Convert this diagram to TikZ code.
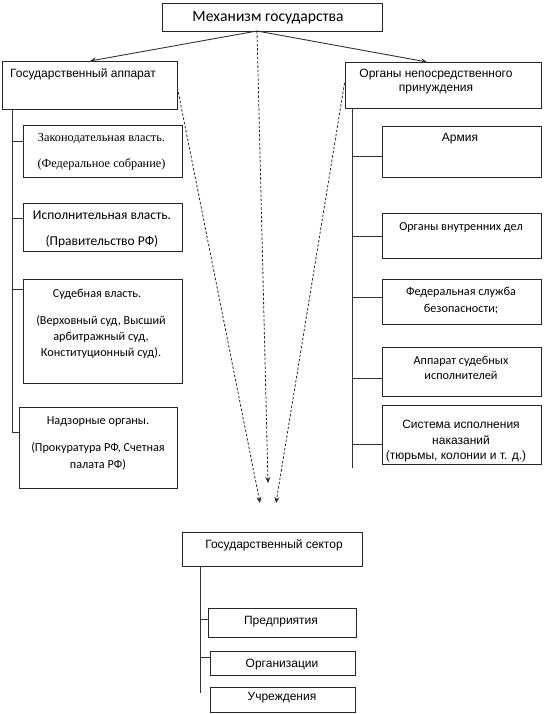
\documentclass[tikz,border=0pt]{standalone}
\usepackage{fontspec}
\setmainfont{Liberation Sans}
\newfontfamily\calfont{Carlito}
\newfontfamily\arfont{Liberation Sans}
\newfontfamily\tmfont{Liberation Serif}
\usetikzlibrary{arrows.meta}
\begin{document}
\begin{tikzpicture}[x=1pt,y=-1pt,
  box/.style={draw=black!85,line width=0.9pt,rectangle,inner sep=0pt},
  ln/.style={draw=black!80,line width=0.9pt},
  arr/.style={ln,-{Stealth[length=6pt,width=5pt]}},
  darr/.style={draw=black!85,line width=0.8pt,dash pattern=on 2.5pt off 1.8pt,-{Stealth[length=6pt,width=5pt]}},
  cal/.style={font=\calfont\fontsize{13.5}{15}\selectfont,inner sep=0pt,yshift=-1.5pt},
  cals/.style={font=\calfont\fontsize{12.2}{14}\selectfont,inner sep=0pt,yshift=-1.5pt},
  ari/.style={font=\arfont\fontsize{12}{14}\selectfont,inner sep=0pt,yshift=-1.5pt},
  tms/.style={font=\tmfont\fontsize{12.3}{14}\selectfont,inner sep=0pt,yshift=-1.5pt}]
\useasboundingbox (0,0) rectangle (543,714);
\fill[white] (0,0) rectangle (543,714);
% boxes
\node[box,minimum width=220pt,minimum height=28pt] (top) at (272,17) {};
\node[box,minimum width=175pt,minimum height=48pt] (ga) at (89.5,85) {};
\node[box,minimum width=196pt,minimum height=46pt] (onp) at (443,85) {};
\node[box,minimum width=159pt,minimum height=52pt] (zak) at (102.5,151) {};
\node[box,minimum width=159pt,minimum height=48pt] (isp) at (102.5,227) {};
\node[box,minimum width=159pt,minimum height=104pt] (sud) at (102.5,331) {};
\node[box,minimum width=158pt,minimum height=81pt] (nad) at (98,447.5) {};
\node[box,minimum width=159pt,minimum height=51pt] (arm) at (461.5,151.5) {};
\node[box,minimum width=159pt,minimum height=45pt] (ovd) at (461.5,235.5) {};
\node[box,minimum width=159pt,minimum height=45pt] (fsb) at (461.5,301.5) {};
\node[box,minimum width=159pt,minimum height=49pt] (asi) at (461.5,371.5) {};
\node[box,minimum width=159pt,minimum height=59pt] (sis) at (461.5,434.5) {};
\node[box,minimum width=180pt,minimum height=34pt] (gs) at (272,549) {};
\node[box,minimum width=148pt,minimum height=29pt] (pr) at (282,622.5) {};
\node[box,minimum width=145pt,minimum height=24pt] (org) at (282.5,663) {};
\node[box,minimum width=145pt,minimum height=25pt] (uch) at (282.5,699.5) {};
% texts
\node[cal,font=\calfont\fontsize{15.6}{17}\selectfont] (ttop) at (268,16) {Механизм государства};
\node[ari,anchor=west] (tga) at (10,73) {Государственный аппарат};
\node[ari] (tonp1) at (436,73) {Органы непосредственного};
\node[ari] (tonp2) at (436,88) {принуждения};
\node[tms] (tzak1) at (101.5,137) {Законодательная власть.};
\node[tms] (tzak2) at (101.5,163) {(Федеральное собрание)};
\node[cal] (tisp1) at (102,214) {Исполнительная власть.};
\node[cal] (tisp2) at (102,240) {(Правительство РФ)};
\node[cals] (tsud1) at (97,293) {Судебная власть.};
\node[cals] (tsud2) at (101,320) {(Верховный суд, Высший};
\node[cals] (tsud3) at (101,336) {арбитражный суд,};
\node[cals] (tsud4) at (101,352) {Конституционный суд).};
\node[cals] (tnad1) at (98,420) {Надзорные органы.};
\node[cals] (tnad2) at (98,447) {(Прокуратура РФ, Счетная};
\node[cals] (tnad3) at (98,463) {палата РФ)};
\node[ari] (tarm) at (460,137) {Армия};
\node[cals] (tovd) at (461,226) {Органы внутренних дел};
\node[cals] (tfsb1) at (461,291) {Федеральная служба};
\node[cals] (tfsb2) at (461,308) {безопасности;};
\node[cals] (tasi1) at (461,360) {Аппарат судебных};
\node[cals] (tasi2) at (461,374) {исполнителей};
\node[ari] (tsis1) at (461,423) {Система исполнения};
\node[ari] (tsis2) at (461,439) {наказаний};
\node[ari] (tsis3) at (456,455) {(тюрьмы, колонии и т. д.)};
\node[ari] (tgs) at (274,544) {Государственный сектор};
\node[ari] (tpr) at (281,620) {Предприятия};
\node[ari] (torg) at (282,663) {Организации};
\node[ari] (tuch) at (282,696) {Учреждения};
% tree connectors
\coordinate (gr) at (257,31);
\draw[arr] (gr) -- (90,61);
\draw[arr] (gr) -- (427,62);
\draw[ln] (ga.south -| 12,0) -- (12,432) -- (nad.west |- 0,432);
\draw[ln] (12,141) -- (zak.west |- 0,141);
\draw[ln] (12,218) -- (isp.west |- 0,218);
\draw[ln] (12,289) -- (sud.west |- 0,289);
\draw[ln] (onp.south -| 352,0) -- (352,468);
\draw[ln] (352,156) -- (arm.west |- 0,156);
\draw[ln] (352,236) -- (ovd.west |- 0,236);
\draw[ln] (352,297) -- (fsb.west |- 0,297);
\draw[ln] (352,378) -- (asi.west |- 0,378);
\draw[ln] (352,444) -- (sis.west |- 0,444);
\draw[ln] (gs.south -| 200,0) -- (200,693);
\draw[ln] (200,619) -- (pr.west |- 0,619);
\draw[ln] (200,657) -- (org.west |- 0,657);
% dashed arrows
\coordinate (m1) at (268,483);
\coordinate (m2) at (260,503);
\coordinate (m3) at (276,503);
\draw[darr] (gr) -- (m1);
\draw[darr] (ga.east |- 0,88) -- (m2);
\draw[darr] (onp.west |- 0,83) -- (m3);
\end{tikzpicture}
\end{document}
